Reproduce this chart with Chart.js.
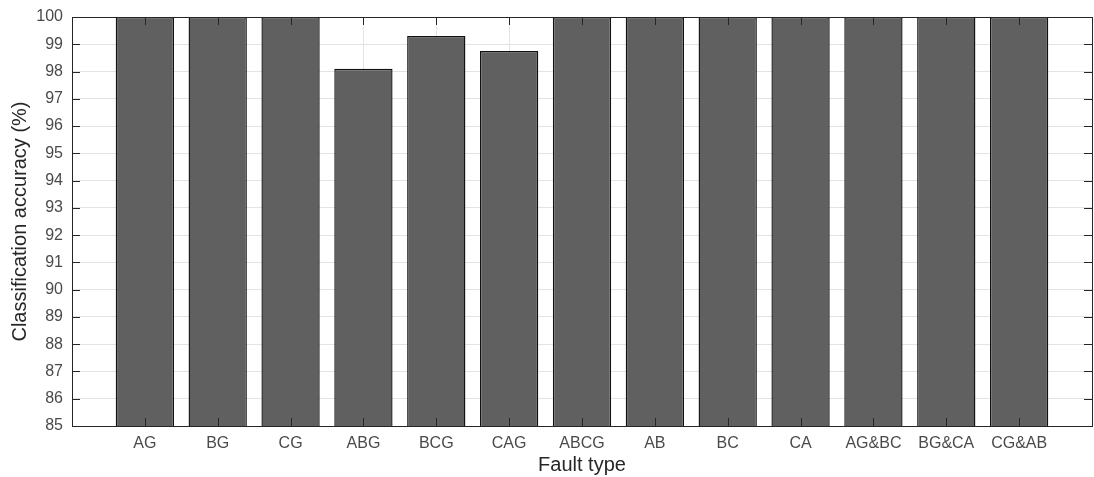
<!DOCTYPE html>
<html lang="en">
<head>
    <meta charset="UTF-8">
    <title>Classification accuracy by fault type</title>
    <script src="https://cdn.jsdelivr.net/npm/chart.js"></script>
    <style>
        html, body { margin: 0; padding: 0; background: #fff; }
        #wrap { width: 1094px; height: 477px; }
    </style>
</head>
<body>
    <div id="wrap"><canvas id="accuracyChart" width="1094" height="477"></canvas></div>

    <script>
        // Data
        const faultTypes = ['AG', 'BG', 'CG', 'ABG', 'BCG', 'CAG', 'ABCG', 'AB', 'BC', 'CA', 'AG&BC', 'BG&CA', 'CG&AB'];
        const accuracy = [100, 100, 100, 98.1, 99.3, 98.75, 100, 100, 100, 100, 100, 100, 100];
        const yTicks = [85, 86, 87, 88, 89, 90, 91, 92, 93, 94, 95, 96, 97, 98, 99, 100];

        const axisColor = '#262626';
        const gridColor = '#e3e3e3';
        const tickFont = { family: 'Liberation Sans', size: 16 };
        const titleFont = { family: 'Liberation Sans', size: 20 };

        // MATLAB-style box with inward ticks
        const boxPlugin = {
            id: 'boxTicks',
            afterDatasetsDraw(chart) {
                const { ctx, chartArea: a, scales: { x, y } } = chart;
                const len = 8;
                ctx.save();
                ctx.strokeStyle = axisColor;
                ctx.lineWidth = 1;
                ctx.beginPath();
                yTicks.forEach(v => {
                    const py = Math.round(y.getPixelForValue(v)) + 0.5;
                    ctx.moveTo(a.left, py); ctx.lineTo(a.left + len, py);
                    ctx.moveTo(a.right, py); ctx.lineTo(a.right - len, py);
                });
                faultTypes.forEach((_, i) => {
                    const px = Math.round(x.getPixelForValue(i + 1)) + 0.5;
                    ctx.moveTo(px, a.top); ctx.lineTo(px, a.top + len);
                    ctx.moveTo(px, a.bottom); ctx.lineTo(px, a.bottom - len);
                });
                ctx.stroke();
                ctx.strokeRect(Math.round(a.left) + 0.5, Math.round(a.top) + 0.5,
                    Math.round(a.right - a.left), Math.round(a.bottom - a.top));
                ctx.restore();
            }
        };

        new Chart(document.getElementById('accuracyChart'), {
            type: 'bar',
            data: {
                datasets: [{
                    data: faultTypes.map((t, i) => ({ x: i + 1, y: accuracy[i] })),
                    backgroundColor: '#606060',
                    borderColor: '#111111',
                    borderWidth: 1.4,
                    borderSkipped: false,
                    barPercentage: 0.8,
                    categoryPercentage: 1.0
                }]
            },
            options: {
                responsive: false,
                animation: false,
                layout: { padding: { top: 17, right: 2, left: 0, bottom: 0 } },
                plugins: { legend: { display: false }, tooltip: { enabled: false } },
                scales: {
                    x: {
                        type: 'linear',
                        min: 0,
                        max: 14,
                        offset: false,
                        afterBuildTicks(scale) {
                            scale.ticks = faultTypes.map((_, i) => ({ value: i + 1 }));
                        },
                        afterFit(scale) { scale.height = 51; },
                        ticks: {
                            autoSkip: false,
                            maxRotation: 0,
                            padding: 8,
                            color: '#4a4a4a',
                            font: tickFont,
                            callback: (v) => faultTypes[v - 1] || ''
                        },
                        grid: { color: gridColor, drawTicks: false, offset: false },
                        border: { display: false },
                        title: {
                            display: true,
                            text: 'Fault type',
                            color: axisColor,
                            font: titleFont,
                            padding: { top: 0, bottom: 0 }
                        }
                    },
                    y: {
                        min: 85,
                        max: 100,
                        afterBuildTicks(scale) {
                            scale.ticks = yTicks.map(v => ({ value: v }));
                        },
                        afterFit(scale) { scale.width = 72; },
                        ticks: {
                            padding: 9,
                            color: '#4a4a4a',
                            font: { family: 'Liberation Sans', size: 16, lineHeight: 1 }
                        },
                        grid: { color: gridColor, drawTicks: false },
                        border: { display: false },
                        title: {
                            display: true,
                            text: 'Classification accuracy (%)',
                            color: axisColor,
                            font: titleFont,
                            padding: { top: 8, bottom: 0 }
                        }
                    }
                }
            },
            plugins: [boxPlugin]
        });
    </script>
</body>
</html>
